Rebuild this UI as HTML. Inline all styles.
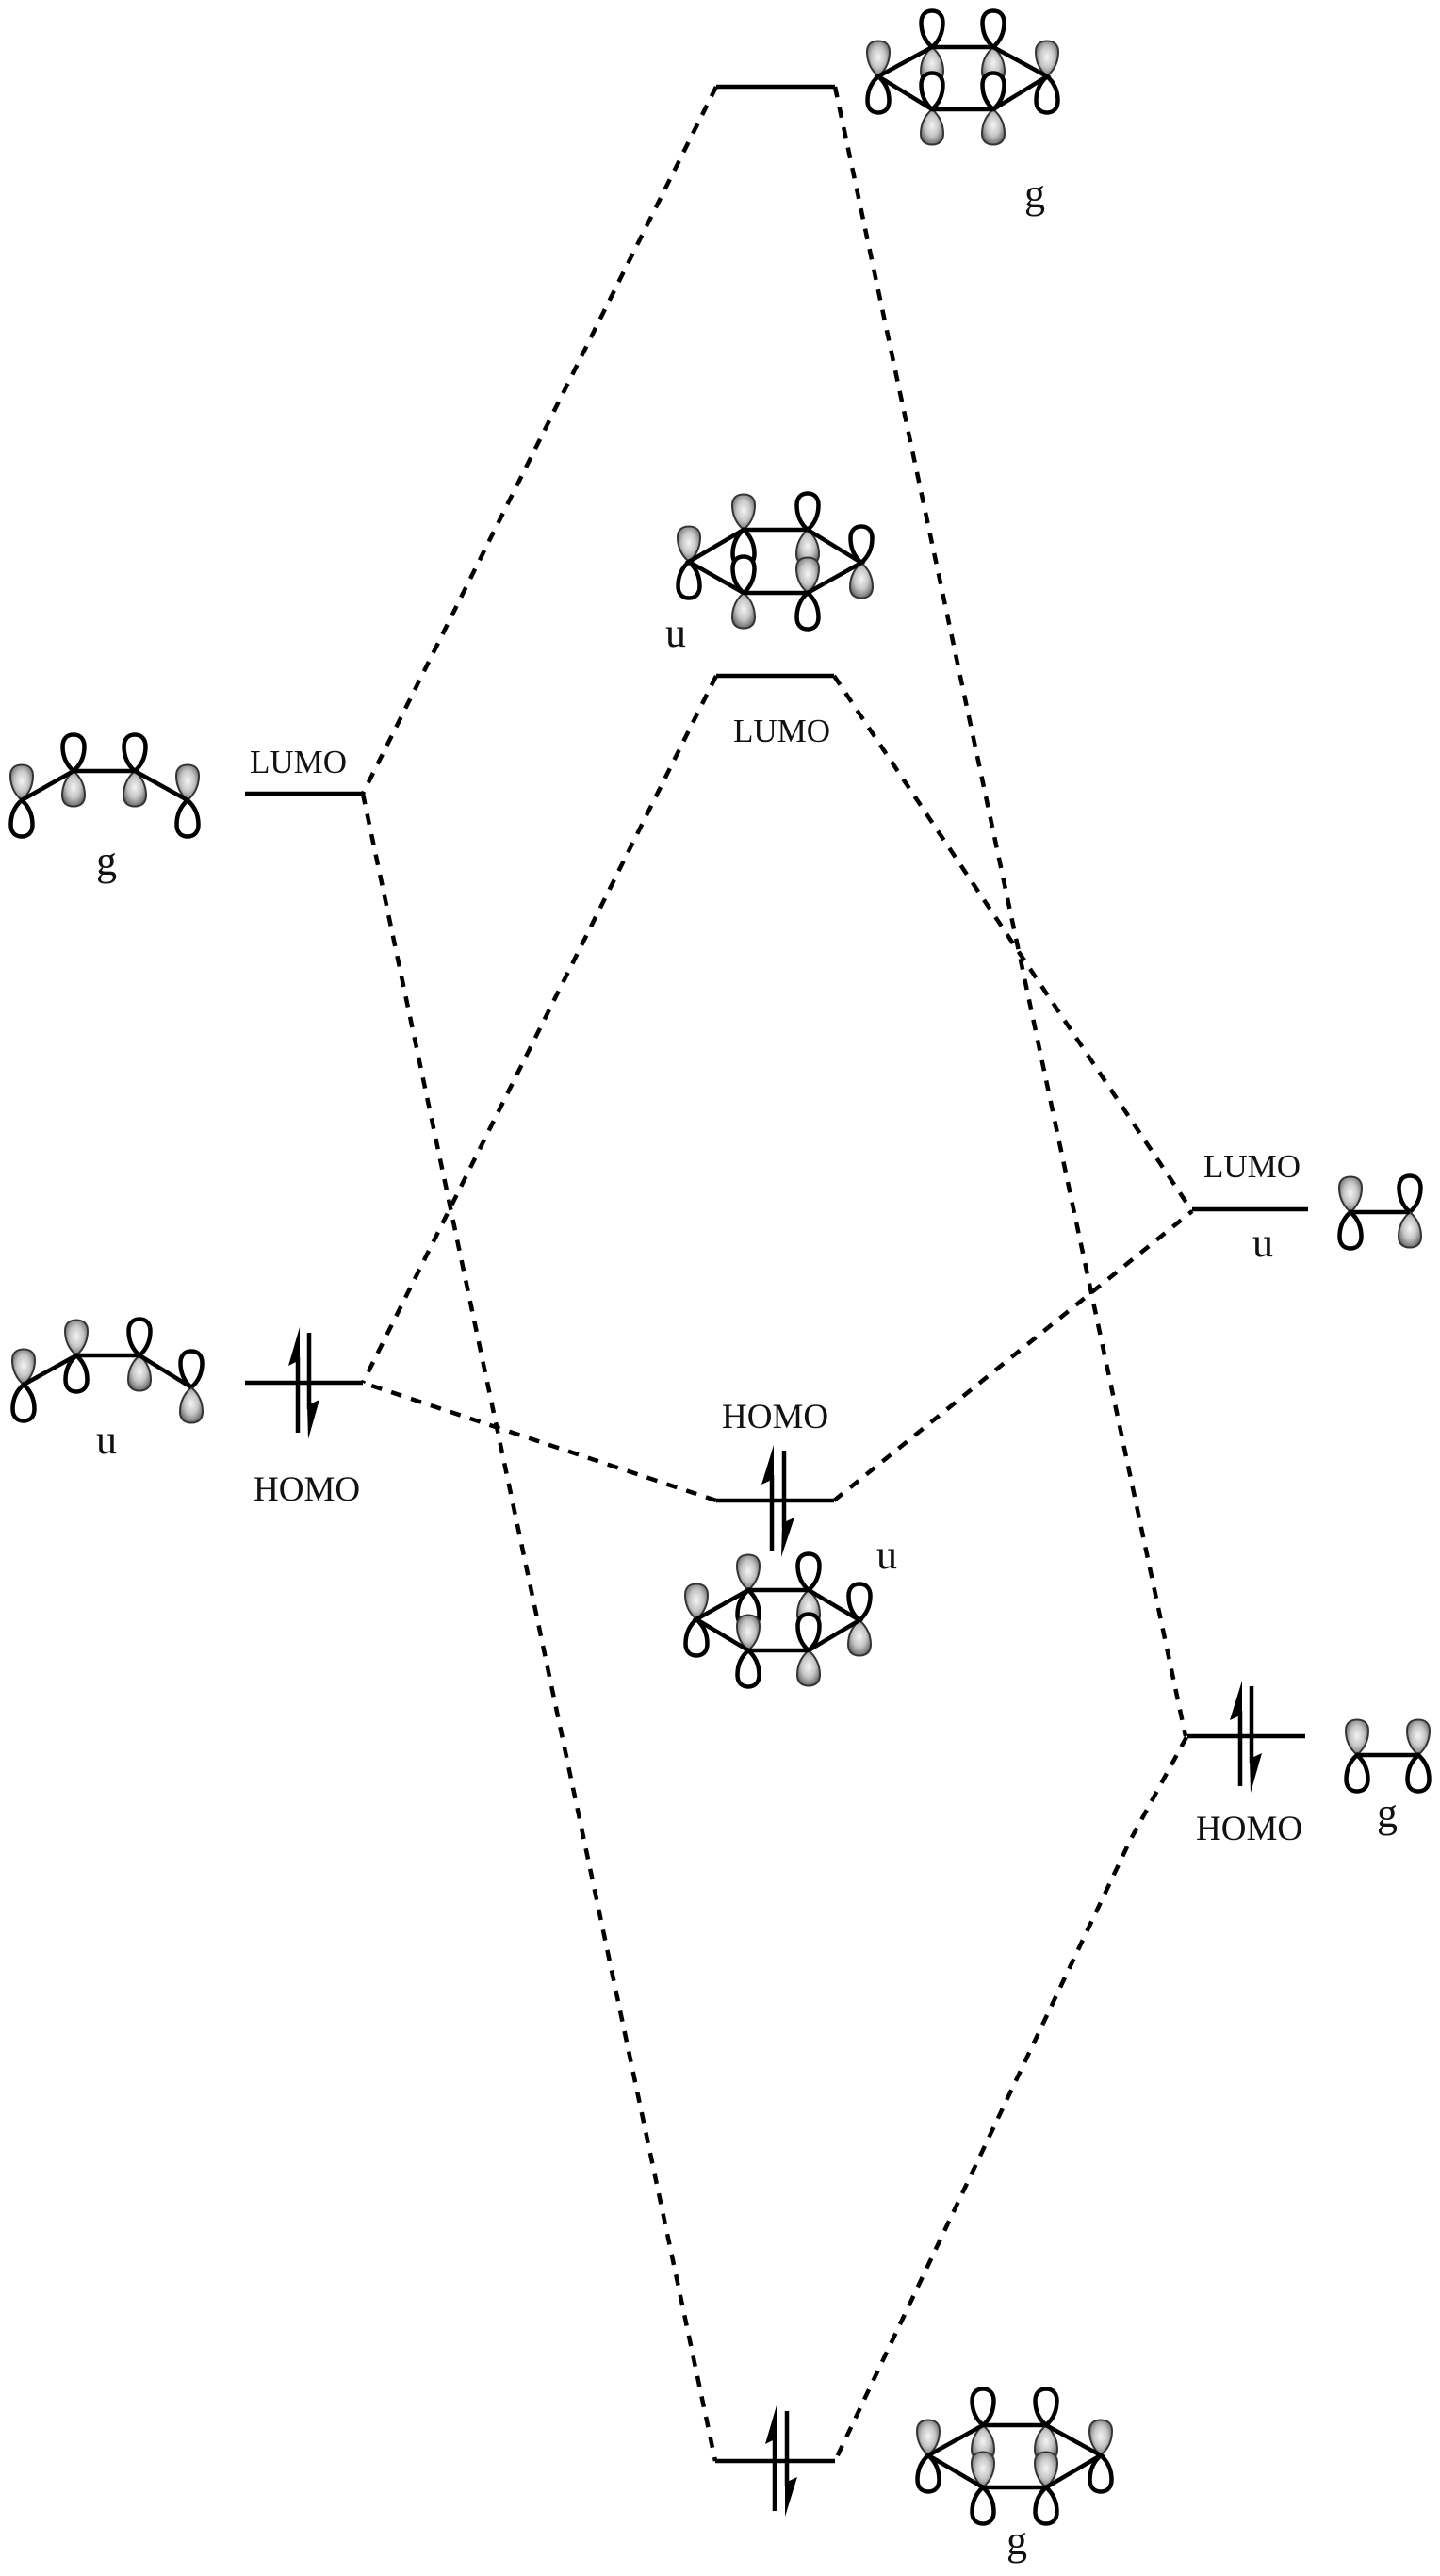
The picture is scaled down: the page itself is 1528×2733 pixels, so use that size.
<!DOCTYPE html>
<html><head><meta charset="utf-8"><style>html,body{margin:0;padding:0;background:#fff}svg{display:block}text{font-family:"Liberation Serif",serif;fill:#111}.h{font-size:37px}.l{font-size:35px}.s{font-size:44px}</style></head><body>
<svg xmlns="http://www.w3.org/2000/svg" width="1528" height="2733" viewBox="0 0 1528 2733">
<defs>
<radialGradient id="gr" cx="50%" cy="46%" r="60%"><stop offset="0" stop-color="#f4f4f4"/><stop offset=".5" stop-color="#c6c6c6"/><stop offset=".85" stop-color="#7c7c7c"/><stop offset="1" stop-color="#3c3c3c"/></radialGradient>
<path id="fu" d="M0,0C-8,-7 -12,-16 -12,-26C-12,-33 -8,-37.500 0,-37.500C8,-37.500 12,-33 12,-26C12,-16 8,-7 0,0Z" fill="url(#gr)" stroke="#333" stroke-width="2"/>
<path id="fd" d="M0,0C-8,7 -12,16 -12,26C-12,33 -8,37.500 0,37.500C8,37.500 12,33 12,26C12,16 8,7 0,0Z" fill="url(#gr)" stroke="#333" stroke-width="2"/>
<path id="ou" d="M0,0C-8,-7 -11.500,-16 -11.500,-26C-11.500,-34 -7,-38.500 0,-38.500C7,-38.500 11.500,-34 11.500,-26C11.500,-16 8,-7 0,0Z" fill="#fff" stroke="#000" stroke-width="4.500"/>
<path id="od" d="M0,0C-8,7 -11.500,16 -11.500,26C-11.500,34 -7,38.500 0,38.500C7,38.500 11.500,34 11.500,26C11.500,16 8,7 0,0Z" fill="#fff" stroke="#000" stroke-width="4.500"/>
</defs>
<rect width="1528" height="2733" fill="#fff"/>
<g fill="none" stroke="#000" stroke-width="4.500" stroke-dasharray="11.500 10.500">
<path d="M760,92L385,842"/>
<path d="M385,842L759,2611"/>
<path d="M886,92L1258,1842"/>
<path d="M1259,1843L1199,1953L886,2611"/>
<path d="M760,717L385,1467"/>
<path d="M885,717L1265,1285"/>
<path d="M885,1592L1265,1285"/>
<path d="M760,1592L385,1467"/>
</g>
<g stroke="#000" stroke-width="4.500" fill="none">
<path d="M760,92H886M760,717H885M260,842H385M260,1467H385M760,1592H885M1265,1283H1388M1260,1842H1385M759,2611H886"/>
</g>
<g stroke="#000" stroke-width="4.500" fill="none">
<path d="M316,1520V1440M328,1414V1495M819,1645V1565M832,1539V1620M1316,1895V1815M1328,1789V1870M822,2664V2584M835,2558V2638"/>
</g>
<g fill="#000">
<path d="M318,1408L306,1449L318,1443Z"/><path d="M327,1527L339,1485L326,1491Z"/>
<path d="M821,1533L808,1575L821,1569Z"/><path d="M829,1652L843,1610L830,1616Z"/>
<path d="M1318,1783L1305,1825L1318,1819Z"/><path d="M1327,1902L1339,1860L1326,1866Z"/>
<path d="M824,2552L812,2593L824,2587Z"/><path d="M833,2670L846,2628L833,2634Z"/>
</g>
<!-- top g orbital -->
<g>
<use href="#fu" x="932" y="81"/><use href="#od" x="932" y="81"/>
<use href="#ou" x="989" y="50"/><use href="#fd" x="989" y="50"/>
<use href="#ou" x="1054" y="50"/><use href="#fd" x="1054" y="50"/>
<use href="#ou" x="989" y="116"/><use href="#fd" x="989" y="116"/>
<use href="#ou" x="1054" y="116"/><use href="#fd" x="1054" y="116"/>
<use href="#fu" x="1111" y="81"/><use href="#od" x="1111" y="81"/>
<path d="M932,81L989,50H1054L1111,81L1054,116H989Z" fill="none" stroke="#000" stroke-width="4.500"/>
</g>
<!-- u orbital upper -->
<g>
<use href="#fu" x="731" y="596"/><use href="#od" x="731" y="596"/>
<use href="#fu" x="789" y="562"/><use href="#od" x="789" y="562"/>
<use href="#ou" x="857" y="562"/><use href="#fd" x="857" y="562"/>
<use href="#ou" x="789" y="629"/><use href="#fd" x="789" y="629"/>
<use href="#fu" x="857" y="629"/><use href="#od" x="857" y="629"/>
<use href="#ou" x="914" y="597"/><use href="#fd" x="914" y="597"/>
<path d="M731,596L789,562H857L914,597L857,629H789Z" fill="none" stroke="#000" stroke-width="4.500"/>
</g>
<!-- u orbital lower -->
<g>
<use href="#fu" x="739" y="1718"/><use href="#od" x="739" y="1718"/>
<use href="#fu" x="794" y="1687"/><use href="#od" x="794" y="1687"/>
<use href="#ou" x="858" y="1687"/><use href="#fd" x="858" y="1687"/>
<use href="#fu" x="794" y="1751"/><use href="#od" x="794" y="1751"/>
<use href="#ou" x="858" y="1751"/><use href="#fd" x="858" y="1751"/>
<use href="#ou" x="912" y="1719"/><use href="#fd" x="912" y="1719"/>
<path d="M739,1718L794,1687H858L912,1719L858,1751H794Z" fill="none" stroke="#000" stroke-width="4.500"/>
</g>
<!-- bottom g orbital -->
<g>
<use href="#fu" x="985" y="2605"/><use href="#od" x="985" y="2605"/>
<use href="#ou" x="1043" y="2573"/><use href="#fd" x="1043" y="2573"/>
<use href="#ou" x="1110" y="2573"/><use href="#fd" x="1110" y="2573"/>
<use href="#fu" x="1043" y="2639"/><use href="#od" x="1043" y="2639"/>
<use href="#fu" x="1110" y="2639"/><use href="#od" x="1110" y="2639"/>
<use href="#fu" x="1168" y="2605"/><use href="#od" x="1168" y="2605"/>
<path d="M985,2605L1043,2573H1110L1168,2605L1110,2639H1043Z" fill="none" stroke="#000" stroke-width="4.500"/>
</g>
<!-- left g butadiene -->
<g>
<use href="#fu" x="23" y="849"/><use href="#od" x="23" y="849"/>
<use href="#ou" x="78" y="818"/><use href="#fd" x="78" y="818"/>
<use href="#ou" x="143" y="818"/><use href="#fd" x="143" y="818"/>
<use href="#fu" x="199" y="849"/><use href="#od" x="199" y="849"/>
<path d="M23,849L78,818H143L199,849" fill="none" stroke="#000" stroke-width="4.500"/>
</g>
<!-- left u butadiene -->
<g>
<use href="#fu" x="25" y="1469"/><use href="#od" x="25" y="1469"/>
<use href="#fu" x="81" y="1438"/><use href="#od" x="81" y="1438"/>
<use href="#ou" x="148" y="1438"/><use href="#fd" x="148" y="1438"/>
<use href="#ou" x="203" y="1472"/><use href="#fd" x="203" y="1472"/>
<path d="M25,1469L81,1438H148L203,1472" fill="none" stroke="#000" stroke-width="4.500"/>
</g>
<!-- right ethylene u -->
<g>
<use href="#fu" x="1433" y="1286"/><use href="#od" x="1433" y="1286"/>
<use href="#ou" x="1496" y="1286"/><use href="#fd" x="1496" y="1286"/>
<path d="M1433,1286H1496" fill="none" stroke="#000" stroke-width="4.500"/>
</g>
<!-- right ethylene g -->
<g>
<use href="#fu" x="1440" y="1862"/><use href="#od" x="1440" y="1862"/>
<use href="#fu" x="1505" y="1862"/><use href="#od" x="1505" y="1862"/>
<path d="M1440,1862H1505" fill="none" stroke="#000" stroke-width="4.500"/>
</g>
<text class="l" x="265" y="820">LUMO</text>
<text class="l" x="778" y="787">LUMO</text>
<text class="l" x="1277" y="1249">LUMO</text>
<text class="h" x="269" y="1592">HOMO</text>
<text class="h" x="766" y="1515">HOMO</text>
<text class="h" x="1269" y="1952">HOMO</text>
<text class="s" x="1087" y="220">g</text>
<text class="s" x="102" y="928">g</text>
<text class="s" x="706" y="686">u</text>
<text class="s" x="102" y="1542">u</text>
<text class="s" x="930" y="1664">u</text>
<text class="s" x="1329" y="1333">u</text>
<text class="s" x="1461" y="1938">g</text>
<text class="s" x="1068" y="2710">g</text>
</svg>
</body></html>
